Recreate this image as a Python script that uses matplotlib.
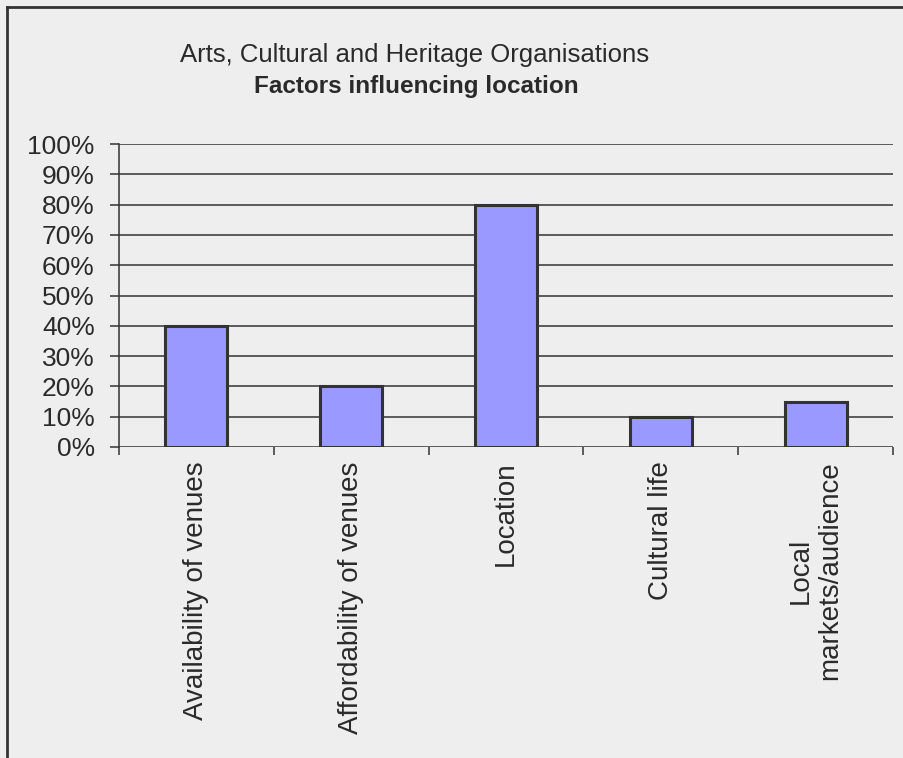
import matplotlib
matplotlib.use("Agg")
import matplotlib.pyplot as plt
from matplotlib.ticker import FixedLocator, PercentFormatter
from matplotlib.lines import Line2D

categories = ["Availability of venues", "Affordability of venues", "Location",
              "Cultural life", "Local\nmarkets/audience"]
values = [40, 20, 80, 10, 15]
yticks = [0, 10, 20, 30, 40, 50, 60, 70, 80, 90, 100]
title_line1 = "Arts, Cultural and Heritage Organisations"
title_line2 = "Factors influencing location"

BG = "#EEEEEE"
DARK = "#333333"
TEXT = "#2a2a2a"
FONT = ["Liberation Sans", "DejaVu Sans"]

plt.rcParams['font.family'] = FONT

fig = plt.figure(figsize=(9.04, 7.58), dpi=100, facecolor=BG)
ax = fig.add_axes([119/904, 311/758, (893-119)/904, (614-311)/758])
ax.set_facecolor(BG)

x = list(range(len(categories)))
ax.bar(x, values, width=0.4, color="#9999FF", edgecolor=DARK, linewidth=2.2, zorder=3)

ax.set_xlim(-0.5, len(categories) - 0.5)
ax.set_ylim(0, 100)
ax.yaxis.set_major_locator(FixedLocator(yticks))
ax.yaxis.set_major_formatter(PercentFormatter(decimals=0))
ax.grid(axis='y', color=DARK, linewidth=1.1, zorder=1)
ax.set_axisbelow(True)

for s in ["top", "right", "bottom"]:
    ax.spines[s].set_visible(False)
ax.spines["left"].set_color(DARK)
ax.spines["left"].set_linewidth(1.1)

ax.set_xticks([i - 0.5 for i in range(len(categories) + 1)])
ax.set_xticklabels([])
ax.set_xticks(x, minor=True)
ax.set_xticklabels(categories, minor=True, rotation=90, fontsize=20,
                   color=TEXT, va="top", ha="center", multialignment="center")
ax.tick_params(axis='x', which='major', length=6, width=1.1, color=DARK, direction='out')
ax.tick_params(axis='x', which='minor', length=0, pad=10.5)
ax.tick_params(axis='y', length=6.5, width=1.1, color=DARK, direction='out',
               labelsize=19, labelcolor=TEXT, pad=11)

fig.text(415/904, 1 - 62/758, title_line1, ha="center", va="baseline",
         fontsize=18.5, color=TEXT)
fig.text(416/904, 1 - 93/758, title_line2, ha="center", va="baseline",
         fontsize=17.5, fontweight="bold", color=TEXT)

# Outer frame lines (top and left)
fig.add_artist(Line2D([7/904, 1], [1 - 7/758, 1 - 7/758], transform=fig.transFigure,
                      color=DARK, linewidth=2))
fig.add_artist(Line2D([7/904, 7/904], [0, 1 - 7/758], transform=fig.transFigure,
                      color=DARK, linewidth=2))

fig.savefig("out.png", dpi=100, facecolor=BG)
